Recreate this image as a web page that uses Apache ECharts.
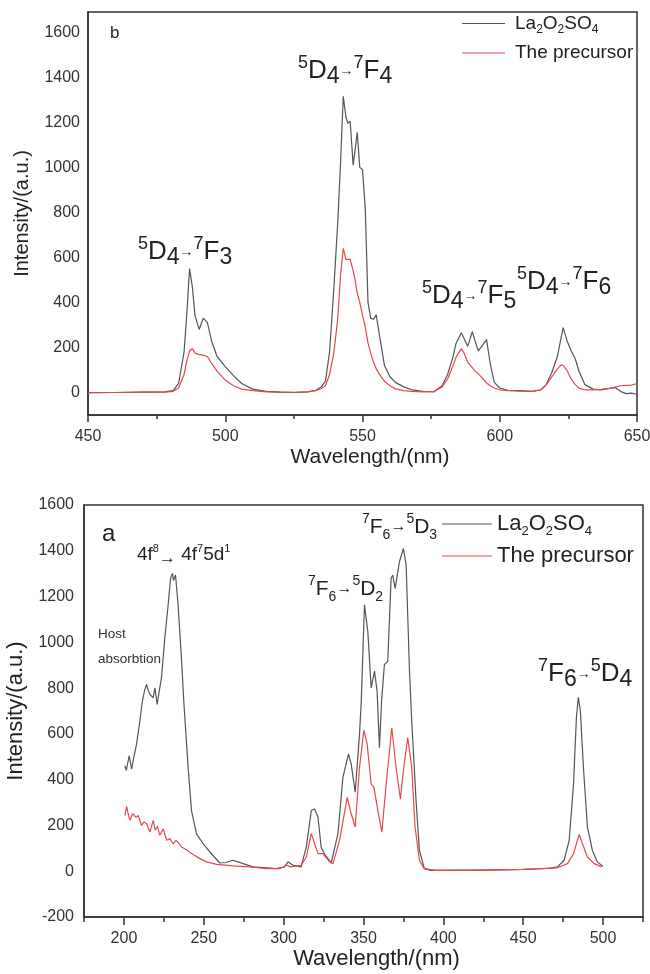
<!DOCTYPE html>
<html>
<head>
<meta charset="utf-8">
<script src="https://cdn.jsdelivr.net/npm/echarts@6.0.0/dist/echarts.min.js"></script>
<style>
html, body { margin: 0; padding: 0; background: #fff; }
#chart { width: 650px; height: 974px; }
</style>
</head>
<body>
<div id="chart"></div>
<script>
// (b) emission spectrum, shared wavelength grid
const bWave = [450,460,470,478,481,483,485,486,487,488,489,490.5,492,493.5,495,497,500,503,506,510,515,520,525,530,533,535,536.5,538,539.5,541,542,543,544,544.7,545.5,546.6,547.3,548.1,549,550,551,552,553,554,555,556.5,558,560,562,565,568,572,576,579,581,583,584,586,587,588.3,590,591,592.2,594,595.2,596.5,598,600,603,607,612,615,617,619,621,622.3,623.1,624.5,626,627.5,629,631,634,637,640,642,644,646,648,650];
const bHost = [0,0,2,3,8,40,180,350,550,470,340,280,330,310,230,160,115,75,40,15,5,2,0,3,10,25,50,180,450,760,1020,1316,1220,1195,1205,1010,1005,1155,1000,990,820,400,330,325,345,230,120,70,45,25,12,5,3,30,80,160,215,265,240,205,270,230,185,215,235,130,45,20,10,8,5,12,35,90,160,240,288,230,185,150,90,35,15,12,18,22,5,-5,-3,-8];
const bPrec = [-2,0,2,2,5,20,80,140,185,195,175,168,165,160,130,95,55,30,15,8,3,2,1,3,8,18,30,80,170,330,520,640,590,585,592,540,500,440,400,345,290,220,175,135,105,75,50,30,16,8,5,3,5,25,60,120,155,195,175,135,110,95,83,60,42,30,20,12,8,6,5,12,35,70,105,123,120,98,60,35,18,12,12,14,18,24,30,32,33,40];

// (a) excitation spectrum
const aHostWave = [200.6,201.5,202.3,203.3,204.8,206,207.9,210,211,212,213.1,214.2,215.2,216.3,218.3,219.4,220.8,222.1,223.5,225.6,227.7,229.2,230.4,231,232.3,233.9,236,237.5,240.2,242.3,245.4,249.6,253.8,260,264,268.3,274.6,280.8,289.2,295.4,300.6,302.7,305.8,311,314.2,317.3,319.4,321.5,323.5,325.6,329.8,334,337.1,340.6,342.3,344.8,347.5,348.6,350.6,352.7,354.8,356.9,358.5,360,361.3,363.1,365.2,367.3,368.3,369.8,372.5,375,376.7,378.8,380.2,382.9,385,388.1,392,410,430,450,465,471.5,475.6,478.8,481.5,483.3,484.5,485.8,487.7,490.2,493.3,496.4,499,500];
const aHostVal = [461,440,470,504,446,490,555,657,714,760,794,816,790,773,758,801,729,787,845,1019,1164,1280,1301,1270,1294,1164,932,740,453,265,164,120,84,36,38,48,33,19,15,11,19,41,26,19,106,265,272,236,106,75,36,164,410,512,468,345,599,743,1164,1048,801,874,787,540,743,903,917,1280,1294,1236,1352,1410,1338,874,657,309,91,11,4,5,5,8,12,19,48,135,381,671,760,700,453,193,91,41,26,22];
const aPrecWave = [200.6,201.7,202.7,203.8,205.4,207.5,209,211,212.5,214.2,216.3,218.3,219.6,221,222.5,224.6,226.7,228.8,230.8,232.5,233.9,236,239.2,242.3,247.5,251.7,258,268.3,278.8,289.2,297.5,301.7,304.8,311,314.2,317.3,319.4,321.5,324.6,325.6,328.8,330.9,335,339.8,342.3,344.8,347.5,350.2,352.3,354.8,356.5,359,361.5,364.2,367.7,370.4,373.1,375.2,377.7,380.2,382.3,385,388,395,420,450,471.5,477.7,481.5,485,487.1,490.2,494.4,499];
const aPrecVal = [243,283,250,222,251,236,243,200,215,207,171,222,180,196,157,186,135,143,120,135,127,106,94,77,55,41,30,23,19,11,11,26,19,26,62,164,120,77,77,84,41,33,135,323,251,193,453,616,555,381,367,265,171,381,627,453,316,453,584,453,193,48,11,4,5,8,15,33,77,161,120,62,33,19];

// tick labels
const bYLabels = [0,200,400,600,800,1000,1200,1400,1600];
const aXMajor = [200,250,300,350,400,450,500];
const aXMinor = [175,225,275,325,375,425,475,525];

const FONT = '"Liberation Sans", Arial, sans-serif';
const INK = '#222';
const AXIS = '#333';
const HOST = '#555';
const PREC = '#e8474c';

const pairs = (xs, ys) => xs.map((x, i) => [x, ys[i]]);

const chart = echarts.init(document.getElementById('chart'));

const axisLine = { show: true, onZero: false, lineStyle: { color: AXIS, width: 1.5 } };
const tickLabel = { fontSize: 16, color: AXIS, fontFamily: FONT, formatter: v => String(v) };

function tok(size, lh, va) {
  const t = { fontSize: size, lineHeight: lh, color: INK, fontFamily: FONT, fontWeight: 'normal' };
  if (va) t.verticalAlign = va;
  return t;
}

// rich styles for transition labels
const bigRich = {
  sp: tok(18, 12, 'top'),
  m: tok(26, 34),
  sb: tok(23, 26, 'bottom'),
  ar: tok(14, 34)
};
const smallRich = {
  sp: tok(14, 4, 'top'),
  m: tok(21, 30),
  sb: tok(14, 4, 'bottom'),
  ar: tok(16, 30)
};
const fRich = {
  m: tok(19, 24),
  sp: tok(11, 16, 'top'),
  ar: tok(17, 20, 'bottom')
};

function label(text, left, top, rich) {
  return { text: text, left: left, top: top, padding: 0, textStyle: { fontWeight: 'normal', rich: rich } };
}

function legendText(name) {
  return name === 'La2O2SO4'
    ? '{f|La}{s|2}{n|O}{s|2}{n|SO}{s|4}'
    : '{f|The precursor}';
}

chart.setOption({
  animation: false,
  title: [
    { text: 'b', left: 110, top: 25, padding: 0, textStyle: { fontSize: 17, fontWeight: 'normal', color: INK, fontFamily: FONT } },
    label('{sp|5}{m|D}{sb|4}{ar|→}{sp|7}{m|F}{sb|4}', 298, 54, bigRich),
    label('{sp|5}{m|D}{sb|4}{ar|→}{sp|7}{m|F}{sb|3}', 138, 235, bigRich),
    label('{sp|5}{m|D}{sb|4}{ar|→}{sp|7}{m|F}{sb|5}', 422, 279, bigRich),
    label('{sp|5}{m|D}{sb|4}{ar|→}{sp|7}{m|F}{sb|6}', 517, 265, bigRich),
    { text: 'a', left: 102, top: 522, padding: 0, textStyle: { fontSize: 24, fontWeight: 'normal', color: INK, fontFamily: FONT } },
    label('{m|4f}{sp|8}{ar|→}{m| 4f}{sp|7}{m|5d}{sp|1}', 137, 543, fRich),
    { text: 'Host\nabsorbtion', left: 98, top: 622, padding: 0, textStyle: { fontSize: 13.5, lineHeight: 25, fontWeight: 'normal', color: AXIS, fontFamily: FONT } },
    label('{sp|7}{m|F}{sb|6}{ar|→}{sp|5}{m|D}{sb|3}', 362, 512, smallRich),
    label('{sp|7}{m|F}{sb|6}{ar|→}{sp|5}{m|D}{sb|2}', 308, 574, smallRich),
    label('{sp|7}{m|F}{sb|6}{ar|→}{sp|5}{m|D}{sb|4}', 538, 657, bigRich)
  ],
  legend: [
    {
      orient: 'vertical', left: 462, top: 14, padding: 0,
      icon: 'rect', itemWidth: 43, itemHeight: 1.2, itemGap: 8,
      data: ['La2O2SO4', 'The precursor'],
      formatter: legendText,
      textStyle: {
        rich: {
          f: Object.assign(tok(19, 24), { padding: [0, 0, 0, 5] }),
          n: tok(19, 24),
          s: tok(12, 8, 'bottom')
        }
      }
    },
    {
      orient: 'vertical', left: 442, top: 513, padding: 0,
      icon: 'rect', itemWidth: 50, itemHeight: 1.2, itemGap: 7,
      data: ['La2O2SO4', 'The precursor'],
      formatter: legendText,
      textStyle: {
        rich: {
          f: tok(22, 28),
          n: tok(22, 28),
          s: tok(13, 8, 'bottom')
        }
      }
    }
  ],
  grid: [
    { left: 88, top: 12, width: 549, height: 403, show: true, borderColor: AXIS, borderWidth: 1.5, outerBoundsMode: 'none', containLabel: false },
    { left: 84, top: 505, width: 559, height: 412, show: true, borderColor: AXIS, borderWidth: 1.5, outerBoundsMode: 'none', containLabel: false }
  ],
  xAxis: [
    {
      gridIndex: 0, type: 'value', min: 450, max: 650, interval: 50,
      axisLine: axisLine,
      axisTick: { length: 7, lineStyle: { color: AXIS, width: 1.5 } },
      minorTick: { show: true, splitNumber: 2, length: 4, lineStyle: { color: AXIS, width: 1.5 } },
      splitLine: { show: false },
      axisLabel: Object.assign({ margin: 14 }, tickLabel),
      name: 'Wavelength/(nm)', nameLocation: 'middle', nameGap: 32,
      nameTextStyle: { fontSize: 21, color: INK, fontFamily: FONT, padding: [0, 0, 0, 15] }
    },
    {
      gridIndex: 1, type: 'value', min: 175, max: 525, position: 'bottom', offset: 0,
      axisLine: axisLine,
      axisTick: { customValues: aXMajor, length: 8, lineStyle: { color: AXIS, width: 1.5 } },
      splitLine: { show: false },
      axisLabel: Object.assign({ margin: 14, customValues: aXMajor }, tickLabel),
      name: 'Wavelength/(nm)', nameLocation: 'middle', nameGap: 25,
      nameTextStyle: { fontSize: 22, color: INK, fontFamily: FONT, padding: [0, 0, 0, 26] }
    },
    {
      gridIndex: 1, type: 'value', min: 175, max: 525, position: 'bottom', offset: 0,
      axisLine: { show: false, onZero: false },
      axisTick: { customValues: aXMinor, length: 5, lineStyle: { color: AXIS, width: 1.5 } },
      splitLine: { show: false },
      axisLabel: { show: false }
    }
  ],
  yAxis: [
    {
      gridIndex: 0, type: 'value', min: -100, max: 1690,
      axisLine: axisLine,
      axisTick: { show: false },
      splitLine: { show: false },
      axisLabel: Object.assign({ margin: 8, customValues: bYLabels }, tickLabel),
      name: 'Intensity/(a.u.)', nameLocation: 'middle', nameGap: 56,
      nameTextStyle: { fontSize: 20, color: INK, fontFamily: FONT }
    },
    {
      gridIndex: 1, type: 'value', min: -200, max: 1600, interval: 200,
      axisLine: axisLine,
      axisTick: { show: false },
      splitLine: { show: false },
      axisLabel: Object.assign({ margin: 10 }, tickLabel),
      name: 'Intensity/(a.u.)', nameLocation: 'middle', nameGap: 57,
      nameTextStyle: { fontSize: 22, color: INK, fontFamily: FONT }
    }
  ],
  series: [
    {
      name: 'La2O2SO4', type: 'line', xAxisIndex: 0, yAxisIndex: 0,
      data: pairs(bWave, bHost), symbol: 'none',
      lineStyle: { color: HOST, width: 1.2 }, itemStyle: { color: HOST }, z: 2
    },
    {
      name: 'The precursor', type: 'line', xAxisIndex: 0, yAxisIndex: 0,
      data: pairs(bWave, bPrec), symbol: 'none',
      lineStyle: { color: PREC, width: 1.2 }, itemStyle: { color: PREC }, z: 3
    },
    {
      name: 'La2O2SO4', type: 'line', xAxisIndex: 1, yAxisIndex: 1,
      data: pairs(aHostWave, aHostVal), symbol: 'none',
      lineStyle: { color: HOST, width: 1.2 }, itemStyle: { color: HOST }, z: 2
    },
    {
      name: 'The precursor', type: 'line', xAxisIndex: 1, yAxisIndex: 1,
      data: pairs(aPrecWave, aPrecVal), symbol: 'none',
      lineStyle: { color: PREC, width: 1.2 }, itemStyle: { color: PREC }, z: 3
    }
  ]
});
</script>
</body>
</html>
